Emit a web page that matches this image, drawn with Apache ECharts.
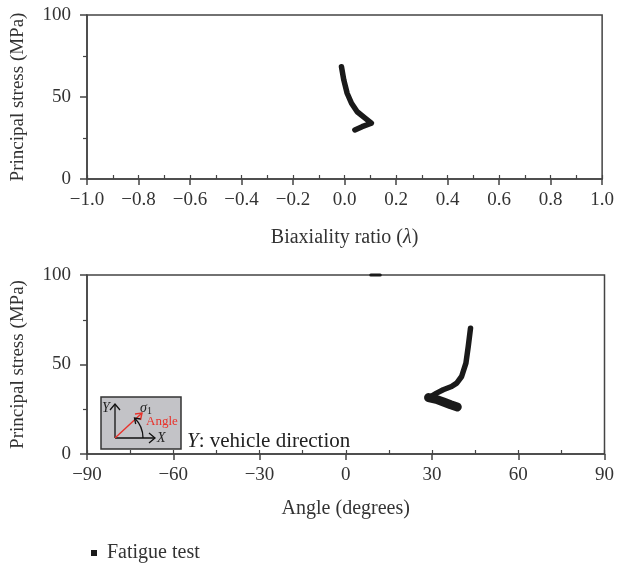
<!DOCTYPE html>
<html>
<head>
<meta charset="utf-8">
<script src="https://cdn.jsdelivr.net/npm/echarts@6/dist/echarts.min.js"></script>
<style>
  html, body { margin: 0; padding: 0; background: #fff; }
  #chart { width: 617px; height: 567px; }
</style>
</head>
<body>
<div id="chart"></div>
<script>
// top panel: biaxiality ratio vs principal stress
const biaxRatio = [-0.012, -0.003, 0.010, 0.027, 0.049, 0.081, 0.104, 0.068, 0.040]
const biaxStress = [68.5, 60.4, 52.3, 46.2, 41.0, 37.0, 34.0, 31.9, 29.9]
// bottom panel: angle vs principal stress
const angleDeg = [43.4, 42.6, 41.8, 40.3, 38.6, 36.8, 33.9, 31.6, 29.3]
const angleStress = [70.3, 60.0, 50.8, 43.3, 39.6, 37.7, 35.9, 34.0, 31.8]
const clusterDeg = [28.8, 31.5, 34.0, 36.5, 38.8]
const clusterStress = [31.5, 30.5, 29.0, 27.5, 26.3]
const topMarkDeg = [8.7, 12.0]
const topMarkStress = [100, 100]

const seriesName = 'Fatigue test'
const serif = '"Liberation Serif", "DejaVu Serif", serif'
const ink = '#333'

function pairs(xs, ys) {
  return xs.map((x, i) => [x, ys[i]])
}
function minus(s) {
  return String(s).replace('-', '\u2212')
}

const chart = echarts.init(document.getElementById('chart'))

const tickFont = { fontFamily: serif, fontSize: 19, color: ink }
const nameFont = { fontFamily: serif, fontSize: 20, color: ink }
const axisLine = { onZero: false, lineStyle: { color: '#444', width: 1.5 } }

function mainX(gridIndex, min, max, interval, fmt, name, gap) {
  return {
    type: 'value', gridIndex: gridIndex, min: min, max: max, interval: interval,
    axisLine: axisLine,
    axisTick: { length: 6, lineStyle: { color: '#444', width: 1.5 } },
    axisLabel: Object.assign({ margin: 12, formatter: fmt }, tickFont),
    splitLine: { show: false },
    name: name, nameLocation: 'middle', nameGap: gap,
    nameTextStyle: Object.assign({ rich: { i: { fontFamily: serif, fontSize: 20, fontStyle: 'italic', color: ink } } }, nameFont)
  }
}
function minorX(gridIndex, min, max, interval) {
  return {
    type: 'value', gridIndex: gridIndex, min: min, max: max, interval: interval,
    position: 'bottom',
    axisLine: { show: false, onZero: false },
    axisTick: { inside: true, length: 4, lineStyle: { color: '#444', width: 1.2 } },
    axisLabel: { show: false },
    splitLine: { show: false }
  }
}
function mainY(gridIndex) {
  return {
    type: 'value', gridIndex: gridIndex, min: 0, max: 100, interval: 50,
    axisLine: axisLine,
    axisTick: { length: 7, lineStyle: { color: '#444', width: 1.5 } },
    minorTick: { show: true, splitNumber: 2, length: 4, lineStyle: { color: '#444', width: 1.2 } },
    axisLabel: Object.assign({ margin: 16 }, tickFont),
    splitLine: { show: false },
    name: 'Principal stress (MPa)', nameLocation: 'middle', nameGap: 59,
    nameTextStyle: { fontFamily: serif, fontSize: 19, color: ink }
  }
}

function lineSeries(data, xi, yi, width, clip) {
  return {
    name: seriesName, type: 'line', xAxisIndex: xi, yAxisIndex: yi,
    data: data, symbol: 'none', clip: clip, legendIcon: 'rect',
    itemStyle: { color: '#1a1a1a' },
    lineStyle: { color: '#1a1a1a', width: width, cap: 'round', join: 'round' },
    animation: false
  }
}

chart.setOption({
  backgroundColor: '#fff',
  grid: [
    { left: 87, right: 12, top: 15, height: 164, show: true, borderColor: '#444', borderWidth: 1.5 },
    { left: 87, right: 12, top: 275, height: 179, show: true, borderColor: '#444', borderWidth: 1.5 }
  ],
  xAxis: [
    mainX(0, -1, 1, 0.2, v => Math.abs(v) < 1e-9 ? '0.0' : minus(v.toFixed(1)), 'Biaxiality ratio ({i|λ})', 49),
    minorX(0, -1, 1, 0.1),
    mainX(1, -90, 90, 30, v => minus(v), 'Angle (degrees)', 45),
    minorX(1, -90, 90, 15)
  ],
  yAxis: [mainY(0), mainY(1)],
  legend: {
    data: [seriesName], left: 86, top: 538, icon: 'rect',
    itemWidth: 6, itemHeight: 6, itemGap: 10,
    textStyle: Object.assign({ padding: [0, 0, 0, 5] }, nameFont)
  },
  series: [
    lineSeries(pairs(biaxRatio, biaxStress), 0, 0, 5.5, true),
    lineSeries(pairs(angleDeg, angleStress), 2, 1, 5.5, true),
    lineSeries(pairs(clusterDeg, clusterStress), 2, 1, 9, true),
    lineSeries(pairs(topMarkDeg, topMarkStress), 2, 1, 3, false)
  ],
  graphic: [
    // inset sketch of the coordinate system
    { type: 'rect', shape: { x: 101, y: 397, width: 80, height: 52 }, style: { fill: '#c3c3c7', stroke: '#333', lineWidth: 1.5 } },
    { type: 'line', shape: { x1: 115, y1: 438, x2: 115, y2: 404 }, style: { stroke: '#111', lineWidth: 1.3 } },
    { type: 'polyline', shape: { points: [[110, 410], [115, 404], [120, 410]] }, style: { stroke: '#111', lineWidth: 1.3, fill: null } },
    { type: 'line', shape: { x1: 115, y1: 438, x2: 155, y2: 438 }, style: { stroke: '#111', lineWidth: 1.3 } },
    { type: 'polyline', shape: { points: [[149, 433], [155, 438], [149, 443]] }, style: { stroke: '#111', lineWidth: 1.3, fill: null } },
    { type: 'line', shape: { x1: 115, y1: 438, x2: 142, y2: 413 }, style: { stroke: '#e8322b', lineWidth: 1.4 } },
    { type: 'polyline', shape: { points: [[135, 414], [142, 413], [140.5, 420]] }, style: { stroke: '#e8322b', lineWidth: 1.4, fill: null } },
    { type: 'arc', shape: { cx: 115, cy: 438, r: 28, startAngle: 0, endAngle: -0.8, clockwise: false }, style: { stroke: '#111', lineWidth: 1.3, fill: null } },
    { type: 'polyline', shape: { points: [[140.5, 419], [134.5, 418], [135.7, 424]] }, style: { stroke: '#111', lineWidth: 1.3, fill: null } },
    { type: 'text', style: { x: 102, y: 401, text: 'Y', font: 'italic 14px ' + serif, fill: '#222' } },
    { type: 'text', style: { x: 157, y: 431, text: 'X', font: 'italic 14px ' + serif, fill: '#222' } },
    { type: 'text', style: { x: 140, y: 400, text: '{s|σ}{n|1}', rich: { s: { font: 'italic 14px ' + serif, fill: '#222' }, n: { font: '10px ' + serif, fill: '#222', padding: [6, 0, 0, 0] } } } },
    { type: 'text', style: { x: 146, y: 415, text: 'Angle', font: '13px ' + serif, fill: '#e8322b' } },
    { type: 'text', style: { x: 187, y: 431, text: '{i|Y}: vehicle direction', font: '21px ' + serif, fill: '#222', rich: { i: { font: 'italic 21px ' + serif, fill: '#222' } } } }
  ]
})
</script>
</body>
</html>
